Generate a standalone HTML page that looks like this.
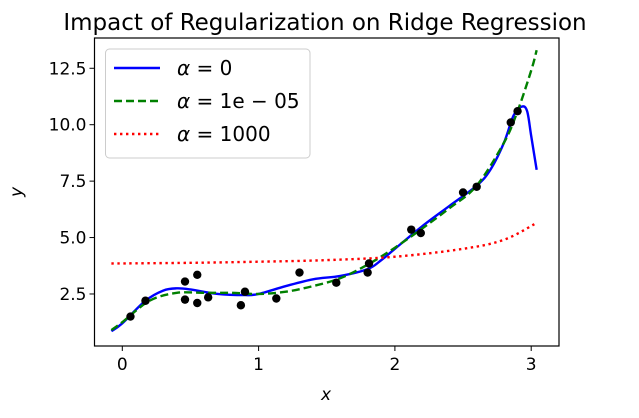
<!DOCTYPE html>
<html><head><meta charset="utf-8"><style>
body{margin:0;background:#fff}
svg text{font-family:"DejaVu Sans","Liberation Sans",sans-serif;fill:#000}
</style></head><body>
<svg id="c" width="639" height="413">
<text x="325" y="30" font-size="23" text-anchor="middle">Impact of Regularization on Ridge Regression</text>
<g id="plot"></g>
</svg>
<script>
const ptX=[0.06,0.17,0.46,0.46,0.55,0.55,0.63,0.87,0.9,1.13,1.3,1.57,1.8,1.81,2.12,2.19,2.5,2.6,2.85,2.9];
const ptY=[1.5,2.2,3.05,2.25,2.1,3.35,2.35,2.0,2.6,2.3,3.45,3.0,3.45,3.85,5.35,5.2,7.0,7.25,10.1,10.6];
const blueX=[-0.08,0,0.17,0.3,0.4,0.5,0.7,0.9,1.0,1.2,1.4,1.6,1.8,1.9,2.0,2.2,2.4,2.6,2.7,2.8,2.87,2.93,2.97,3.0,3.04];
const blueY=[0.85,1.2,2.2,2.65,2.75,2.7,2.5,2.45,2.5,2.85,3.15,3.3,3.6,4.0,4.5,5.5,6.4,7.3,8.0,9.2,10.4,10.8,10.6,9.5,8.0];
const greenX=[-0.08,0,0.2,0.4,0.6,0.8,1.0,1.2,1.4,1.6,1.8,2.0,2.2,2.4,2.6,2.8,2.9,3.0,3.04];
const greenY=[0.9,1.25,2.2,2.55,2.55,2.55,2.5,2.6,2.85,3.2,3.8,4.55,5.4,6.3,7.3,9.2,10.6,12.4,13.3];
const redX=[-0.08,0.5,1,1.5,2,2.5,2.8,3.04];
const redY=[3.85,3.88,3.93,4.0,4.15,4.5,4.9,5.65];
const xTicks=[0,1,2,3];
const yTicks=[2.5,5.0,7.5,10.0,12.5];
const L=94.5,R=559,T=38,B=346;
const sx=v=>122.3+v*136.3, sy=v=>350.4-v*22.57;
const NS="http://www.w3.org/2000/svg", g=document.getElementById('plot');
function mk(t,a){const e=document.createElementNS(NS,t);for(const k in a)e.setAttribute(k,a[k]);g.appendChild(e);return e;}
function smooth(p){let d='M'+p[0][0]+','+p[0][1];
  for(let i=0;i<p.length-1;i++){const p0=p[Math.max(0,i-1)],p1=p[i],p2=p[i+1],p3=p[Math.min(p.length-1,i+2)];
    const c1=[p1[0]+(p2[0]-p0[0])/6,p1[1]+(p2[1]-p0[1])/6],c2=[p2[0]-(p3[0]-p1[0])/6,p2[1]-(p3[1]-p1[1])/6];
    d+=' C'+c1+' '+c2+' '+p2;}
  return d;}
function line(xs,ys,col,dash,name){
  const e=mk('path',{d:smooth(xs.map((x,i)=>[sx(x),sy(ys[i])])),fill:'none',stroke:col,'stroke-width':2.4,'stroke-dasharray':dash});
  
  
}
line(blueX,blueY,'#0000ff','','series-alpha-0');
line(greenX,greenY,'#008000','8,4','series-alpha-1e-05');
line(redX,redY,'#ff0000','2.4,3.6','series-alpha-1000');
ptX.forEach((x,i)=>{const c=mk('circle',{cx:sx(x),cy:sy(ptY[i]),r:4.2,fill:'#000'});
  
  });
const fr=mk('rect',{x:L,y:T,width:R-L,height:B-T,fill:'none',stroke:'#000','stroke-width':1.2});


xTicks.forEach(v=>{mk('line',{x1:sx(v),x2:sx(v),y1:B,y2:B+5,stroke:'#000'});
  const t=mk('text',{x:sx(v),y:B+24,'font-size':17,'text-anchor':'middle'});t.textContent=v;
  
  });
yTicks.forEach(v=>{mk('line',{x1:L-5,x2:L,y1:sy(v),y2:sy(v),stroke:'#000'});
  const t=mk('text',{x:L-8,y:sy(v)+6,'font-size':17,'text-anchor':'end'});t.textContent=v.toFixed(1);
  
  });
const xl=mk('text',{x:326,y:400,'font-size':17,'font-style':'italic','text-anchor':'middle'});xl.textContent='x';


const yl=mk('text',{x:0,y:0,'font-size':17,'font-style':'italic','text-anchor':'middle',transform:'translate(22,192) rotate(-90)'});yl.textContent='y';


const lg=mk('rect',{x:105.5,y:49,width:204.5,height:109,rx:4,fill:'#fff','fill-opacity':0.8,stroke:'#ccc'});


[['#0000ff','','= 0'],['#008000','8,4','= 1e − 05'],['#ff0000','2.4,3.6','= 1000']].forEach((d,i)=>{
  const y=68+i*33;
  mk('line',{x1:114,x2:160,y1:y,y2:y,stroke:d[0],'stroke-width':2.4,'stroke-dasharray':d[1]});
  const t=mk('text',{x:177,y:y+7,'font-size':20});
  const a=document.createElementNS(NS,'tspan');a.setAttribute('font-style','italic');a.textContent='α';t.appendChild(a);
  t.appendChild(document.createTextNode(' '+d[2]));
  
  
});
</script>
</body></html>
